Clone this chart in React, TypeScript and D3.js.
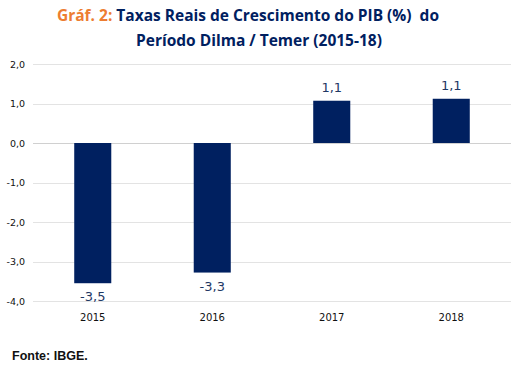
import React from "react";
import * as d3 from "d3";

// dados do gráfico
const years = ["2015", "2016", "2017", "2018"];
const pib = [-3.55, -3.28, 1.07, 1.12];
const pibLabels = ["-3,5", "-3,3", "1,1", "1,1"];
const yTicks = [2, 1, 0, -1, -2, -3, -4];

const W = 518;
const H = 370;
const left = 33;
const right = 511;
const top = 64;
const bottom = 301;

const navy = "#002060";
const orange = "#ED7D31";

const ptBR = d3.formatLocale({
	decimal: ",",
	thousands: ".",
	grouping: [3],
	currency: ["R$", ""],
	minus: "-",
});
const fmt = ptBR.format(".1f");

export default function App() {
	const x = d3.scaleBand().domain(years).range([left, right]).paddingInner(0.69).paddingOuter(0.345);
	const y = d3.scaleLinear().domain([-4, 2]).range([bottom, top]);

	return (
		<svg
			width={W}
			height={H}
			style={{ position: "absolute", left: 0, top: 0, background: "#fff" }}
		>
			<rect width={W} height={H} fill="#fff" />
			{/* título */}
			<text
				x={248}
				y={21}
				textAnchor="middle"
				fontFamily="'Open Sans', sans-serif"
				fontWeight="bold"
				fontSize={15.5}
				fill={navy}
				style={{ whiteSpace: "pre" }}
			>
				<tspan fill={orange}>Gráf. 2: </tspan>
				{"Taxas Reais de Crescimento do PIB (%)  do"}
			</text>
			<text
				x={259}
				y={46}
				textAnchor="middle"
				fontFamily="'Open Sans', sans-serif"
				fontWeight="bold"
				fontSize={15.5}
				fill={navy}
			>
				Período Dilma / Temer (2015-18)
			</text>

			{/* grade */}
			{yTicks.map((t) => (
				<g key={t}>
					<line
						x1={left}
						x2={right}
						y1={Math.round(y(t)) + 0.5}
						y2={Math.round(y(t)) + 0.5}
						stroke={t === 0 ? "#d0d0d0" : "#e3e3e3"}
						strokeWidth={1}
					/>
					<text
						x={25}
						y={y(t) + 3.5}
						textAnchor="end"
						fontFamily="'DejaVu Sans', sans-serif"
						fontSize={9.5}
						fill="#111"
					>
						{fmt(t)}
					</text>
				</g>
			))}

			{/* barras */}
			{years.map((yr, i) => {
				const v = pib[i];
				const y0 = y(0);
				const y1 = y(v);
				return (
					<g key={yr}>
						<rect
							x={x(yr)}
							y={Math.min(y0, y1)}
							width={x.bandwidth()}
							height={Math.abs(y1 - y0)}
							fill={navy}
						/>
						<text
							x={(x(yr) as number) + x.bandwidth() / 2}
							y={v < 0 ? y1 + 18 : y1 - 9}
							textAnchor="middle"
							fontFamily="'DejaVu Sans', sans-serif"
							fontSize={13}
							fill="#1F3864"
						>
							{pibLabels[i]}
						</text>
						<text
							x={(x(yr) as number) + x.bandwidth() / 2}
							y={321}
							textAnchor="middle"
							fontFamily="'DejaVu Sans', sans-serif"
							fontSize={10}
							fill="#111"
						>
							{yr}
						</text>
					</g>
				);
			})}

			<text
				x={12}
				y={360}
				fontFamily="'Liberation Sans', Arial, sans-serif"
				fontWeight="bold"
				fontSize={12.5}
				fill="#111"
			>
				Fonte: IBGE.
			</text>
		</svg>
	);
}
